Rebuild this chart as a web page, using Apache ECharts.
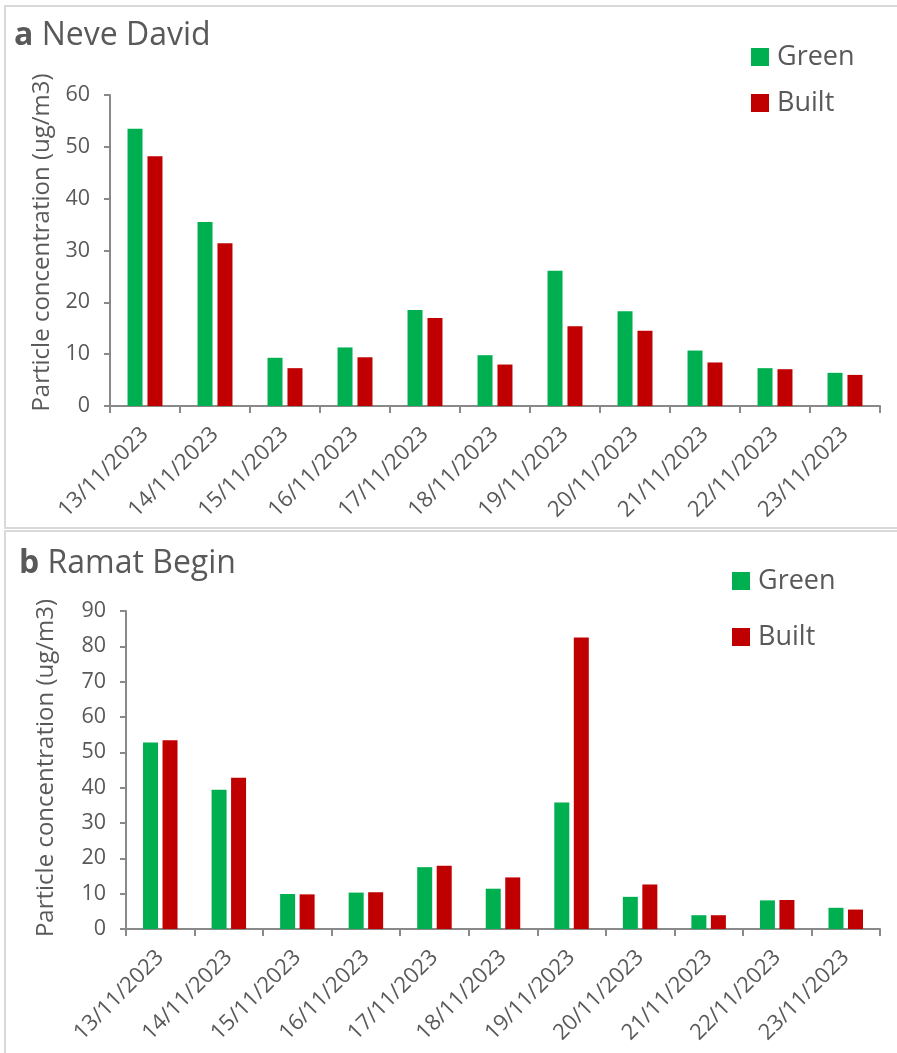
<!DOCTYPE html>
<html>
<head>
<meta charset="utf-8">
<script src="https://cdn.jsdelivr.net/npm/echarts@6/dist/echarts.min.js"></script>
<style>
  html, body { margin: 0; padding: 0; background: #ffffff; }
  #chart { width: 897px; height: 1053px; }
</style>
</head>
<body>
<div id="chart"></div>
<script>
// Daily particle concentration at two neighbourhoods, green vs built sites
const dates = ['13/11/2023', '14/11/2023', '15/11/2023', '16/11/2023', '17/11/2023', '18/11/2023',
               '19/11/2023', '20/11/2023', '21/11/2023', '22/11/2023', '23/11/2023'];

// a — Neve David
const neveDavidGreen = [53.5, 35.5, 9.3, 11.3, 18.5, 9.8, 26.1, 18.3, 10.7, 7.3, 6.4];
const neveDavidBuilt = [48.2, 31.4, 7.3, 9.4, 17.0, 8.0, 15.4, 14.5, 8.4, 7.1, 6.0];

// b — Ramat Begin
const ramatBeginGreen = [52.8, 39.4, 9.9, 10.3, 17.5, 11.4, 35.8, 9.1, 3.9, 8.1, 6.0];
const ramatBeginBuilt = [53.4, 42.8, 9.8, 10.4, 17.9, 14.6, 82.5, 12.6, 3.9, 8.2, 5.5];

const yTicksA = { min: 0, max: 60, interval: 10 };
const yTicksB = { min: 0, max: 90, interval: 10 };

const GREEN = '#00B050';
const RED = '#C00000';
const TEXT = '#595959';
const AXIS = '#898989';
const FONT = '"Open Sans", "Noto Sans", sans-serif';
const yName = 'Particle concentration (ug/m3)';

function xAxis(gridIndex) {
  return {
    type: 'category',
    gridIndex: gridIndex,
    data: dates,
    boundaryGap: true,
    axisLine: { lineStyle: { color: AXIS, width: 2 } },
    axisTick: { show: true, length: 7, lineStyle: { color: AXIS, width: 2 } },
    axisLabel: { rotate: 45, margin: 25, color: TEXT, fontSize: 22, fontFamily: FONT, interval: 0 },
    splitLine: { show: false }
  };
}

function yAxis(gridIndex, ticks, nameGap, namePad) {
  return {
    type: 'value',
    gridIndex: gridIndex,
    min: ticks.min,
    max: ticks.max,
    interval: ticks.interval,
    name: yName,
    nameLocation: 'middle',
    nameGap: nameGap,
    nameTextStyle: { color: TEXT, fontSize: 24, fontFamily: FONT, padding: [0, 0, 0, namePad] },
    axisLine: { show: true, lineStyle: { color: AXIS, width: 2 } },
    axisTick: { show: true, length: 6, lineStyle: { color: AXIS, width: 2 } },
    axisLabel: { color: TEXT, fontSize: 21.5, fontFamily: FONT, margin: 20 },
    splitLine: { show: false }
  };
}

function bar(name, color, data, idx, gap) {
  return {
    type: 'bar',
    name: name,
    xAxisIndex: idx,
    yAxisIndex: idx,
    data: data,
    barWidth: 15,
    barGap: gap,
    itemStyle: { color: color },
    emphasis: { disabled: true }
  };
}

function legend(left, top, gap) {
  return {
    data: ['Green', 'Built'],
    orient: 'vertical',
    left: left,
    top: top,
    icon: 'rect',
    itemWidth: 18,
    itemHeight: 18,
    itemGap: gap,
    padding: 0,
    selectedMode: false,
    textStyle: { color: TEXT, fontSize: 27, fontFamily: FONT, lineHeight: 30, padding: [0, 0, 0, 3] }
  };
}

function panelTitle(x, y, letter, label) {
  return {
    type: 'text',
    left: x,
    top: y,
    style: {
      text: '{b|' + letter + '} ' + label,
      fill: TEXT,
      font: '32px ' + FONT,
      rich: {
        b: { fontWeight: 'bold', fontSize: 32, fontFamily: FONT, fill: TEXT }
      }
    }
  };
}

const chart = echarts.init(document.getElementById('chart'), null, { renderer: 'canvas' });

chart.setOption({
  backgroundColor: '#ffffff',
  animation: false,
  graphic: [
    { type: 'rect', shape: { x: 5, y: 6, width: 900, height: 522 },
      style: { fill: 'none', stroke: '#d9d9d9', lineWidth: 2 }, silent: true },
    { type: 'rect', shape: { x: 5, y: 531, width: 900, height: 540 },
      style: { fill: 'none', stroke: '#d9d9d9', lineWidth: 2 }, silent: true },
    panelTitle(14, 20, 'a', 'Neve David'),
    panelTitle(19, 548, 'b', 'Ramat Begin')
  ],
  legend: [legend(751, 42, 16), legend(732, 566, 26)],
  grid: [
    { left: 110, right: 17, top: 95, height: 311, containLabel: false },
    { left: 126, right: 17, top: 611, height: 318, containLabel: false }
  ],
  xAxis: [xAxis(0), xAxis(1)],
  yAxis: [yAxis(0, yTicksA, 52, 16), yAxis(1, yTicksB, 68, 4)],
  series: [
    bar('Green', GREEN, neveDavidGreen, 0, '33%'),
    bar('Built', RED, neveDavidBuilt, 0, '33%'),
    bar('Green', GREEN, ramatBeginGreen, 1, '30%'),
    bar('Built', RED, ramatBeginBuilt, 1, '30%')
  ]
});
</script>
</body>
</html>
